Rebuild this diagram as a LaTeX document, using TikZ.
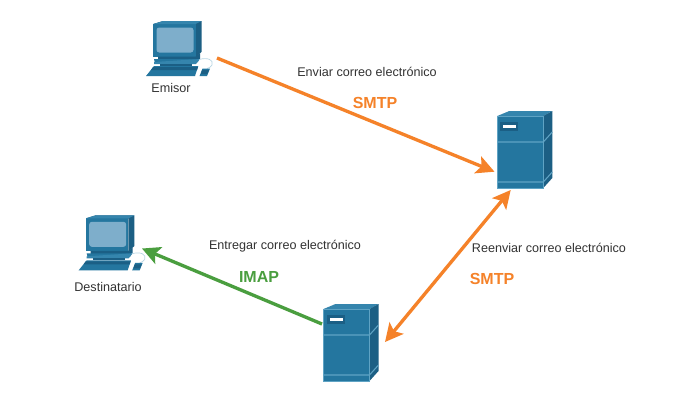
\documentclass[tikz,border=0pt]{standalone}
\usepackage{fontspec}
\setmainfont{Liberation Sans}
\usetikzlibrary{arrows.meta}
\definecolor{srvfront}{HTML}{24769F}
\definecolor{srvtop}{HTML}{3585AD}
\definecolor{srvside}{HTML}{1C5F84}
\definecolor{srvline}{HTML}{5FA3C4}
\definecolor{pcscreen}{HTML}{7EAECB}
\definecolor{pcdark}{HTML}{1B5F85}
\definecolor{arrorange}{HTML}{F58229}
\definecolor{arrgreen}{HTML}{4A9E3F}
\definecolor{txt}{HTML}{333333}
\tikzset{
  x=0.75pt,y=-0.75pt,
  lab/.style={font=\fontsize{9.45pt}{11pt}\selectfont,text=txt,inner sep=0pt},
  proto/.style={font=\fontsize{12pt}{14pt}\selectfont\bfseries,inner sep=0pt},
  wire/.style={line width=2.5pt,-{Stealth[length=13.5pt,width=13.5pt,inset=3pt]}},
  wiretwo/.style={line width=2.5pt,{Stealth[length=13.5pt,width=13.5pt,inset=3pt]}-{Stealth[length=13.5pt,width=13.5pt,inset=3pt]}},
  pics/server/.style={code={
    \fill[srvtop] (0,0) -- (12,-5) -- (55,-5) -- (46,0) -- cycle;
    \fill[srvside] (46,0) -- (55,-5) -- (55,62) -- (46,72) -- cycle;
    \fill[srvfront] (0,0) rectangle (46,72);
    \draw[srvline,line width=0.5pt] (0,0) -- (46,0) -- (46,72) -- (0,72) -- cycle;
    \draw[srvline,line width=0.8pt] (0,26) -- (46,26) -- (55,16);
    \draw[srvline,line width=0.8pt] (0,66) -- (46,66) -- (55,56);
    \fill[pcdark] (3,6) rectangle (21,15);
    \fill[white] (6,9) rectangle (19,11.5);
  }},
  pics/pc/.style={code={
    \fill[srvside] (23.3,14) -- (33,11) -- (71.7,11) -- (71.7,41.7) -- (65.7,47) -- (65.7,14) -- cycle;
    \fill[srvfront] (23.3,14) rectangle (65.7,46.5);
    \fill[srvtop] (23.3,14) -- (33,11) -- (71.7,11) -- (65.7,14) -- cycle;
    \fill[pcscreen,rounded corners=2pt] (26.5,17.5) rectangle (63.5,42.5);
    \fill[pcdark] (28,46.5) -- (65.7,46.5) -- (70,43) -- (70,49) -- (65,53) -- (28,53) -- cycle;
    \fill[srvfront] (24,49) -- (68,49) -- (68,52) -- (25,53) -- cycle;
    \fill[srvtop] (24,52) -- (70,49) -- (66,54) -- (24,54) -- cycle;
    \fill[pcdark] (30,54) rectangle (62,56);
    \fill[srvfront] (16,66) -- (24,56) -- (68.3,56) -- (65,66) -- cycle;
    \fill[pcdark] (23,57) -- (68,57) -- (67,60) -- (21,60) -- cycle;
    \draw[srvline!45,line width=0.5pt] (69,49.5) .. controls (78,47) and (84,50) .. (82,55) .. controls (81,57) and (79,58) .. (77,58.5);
    \fill[srvfront] (69.5,66) -- (72.5,58.5) -- (80,58.5) -- (77,66) -- cycle;
    \fill[srvside] (72,60) -- (79,60) -- (77.3,64) -- (71,64) -- cycle;
  }}
}
\begin{document}
\begin{tikzpicture}
\useasboundingbox (0,0) rectangle (676,405);
\fill[white] (0,0) rectangle (676,405);
\pic at (130,10) {pc};
\pic at (62.7,204.3) {pc};
\pic at (497.3,116) {server};
\pic at (323.5,309) {server};
\coordinate (emisor) at (217,58);
\coordinate (dest) at (142,248.5);
\coordinate (srvAin) at (494.5,171.7);
\coordinate (srvAout) at (510.7,190);
\coordinate (srvBin) at (385,342);
\coordinate (srvBout) at (322,324);
\draw[wire,arrorange] (emisor) -- (srvAin);
\draw[wiretwo,arrorange] (srvBin) -- (srvAout);
\draw[wire,arrgreen] (srvBout) -- (dest);
\node[lab] (l1) at (171,87.5) {Emisor};
\node[lab] (l2) at (108,287) {Destinatario};
\node[lab] (l3) at (367,72) {Enviar correo electrónico};
\node[lab] (l4) at (285,246.5) {Entregar correo electrónico};
\node[lab] (l5) at (549,247.5) {Reenviar correo electrónico};
\node[proto,text=arrorange] (p1) at (375,102.5) {SMTP};
\node[proto,text=arrorange] (p2) at (492,279) {SMTP};
\node[proto,text=arrgreen] (p3) at (259,277) {IMAP};
\end{tikzpicture}
\end{document}
